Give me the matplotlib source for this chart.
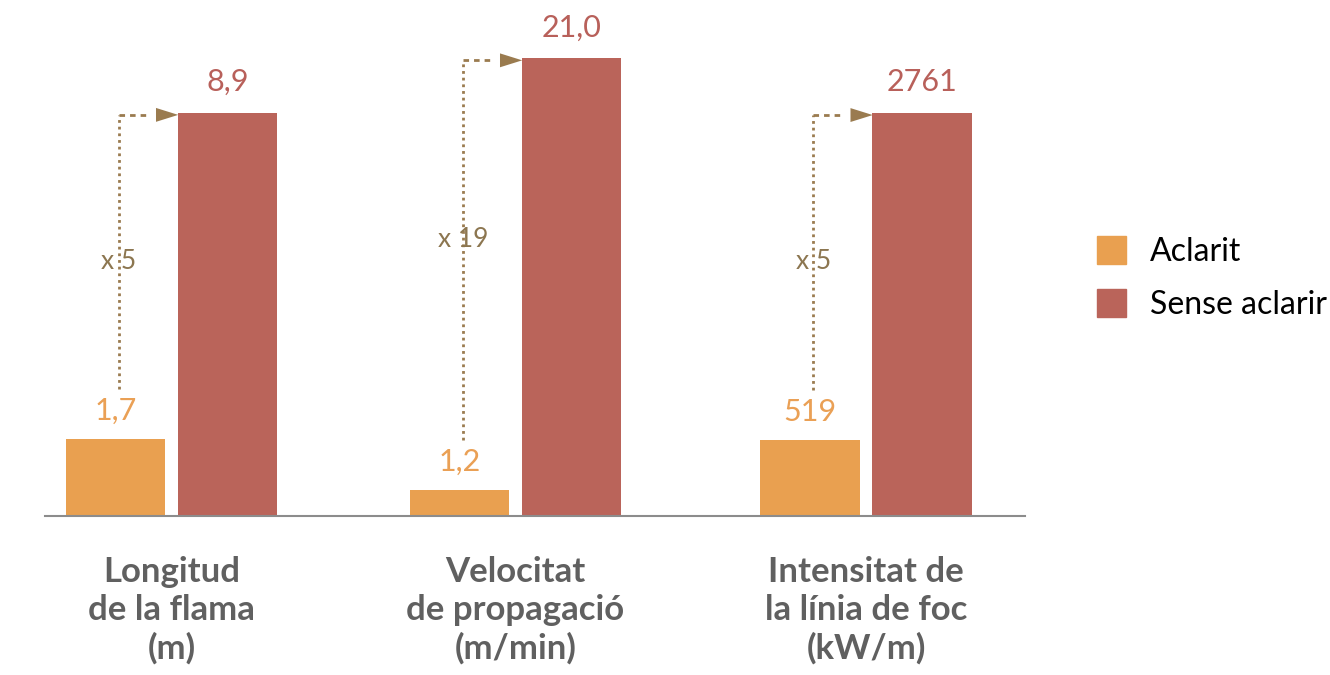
import matplotlib.pyplot as plt
from matplotlib.patches import Patch
from matplotlib.lines import Line2D

plt.rcParams['font.family'] = ['Lato', 'DejaVu Sans']

# dades
categories = ["Longitud\nde la flama\n(m)",
              "Velocitat\nde propagació\n(m/min)",
              "Intensitat de\nla línia de foc\n(kW/m)"]
aclarit = [1.7, 1.2, 519]
sense_aclarir = [8.9, 21.0, 2761]
decimals = [1, 1, 0]
multipliers = ["x 5", "x 19", "x 5"]
series = ["Aclarit", "Sense aclarir"]

# estil / layout
c_orange = "#E9A050"
c_red = "#BA645A"
c_orange_txt = "#EAA055"
c_red_txt = "#B8605A"
c_arrow = "#9A7B4F"
c_mult = "#8C7650"
c_cat = "#606060"

W, H = 1330, 675
ylim_top = [10.73, 22.3, 3330]       # escala propia per grup
orange_centers = [115.5, 459.5, 810]  # px
mult_y = [0.523, 0.568, 0.523]        # fracció eix
unit_px = 112
base_px = 516
top_px = 30

fig = plt.figure(figsize=(W / 100, H / 100), dpi=100)


def fmt(v, d):
    s = f"{v:.{d}f}"
    return s.replace(".", ",")


for i in range(3):
    left = orange_centers[i] - 0.9 * unit_px
    ax = fig.add_axes([left / W, (H - base_px) / H,
                       2.8 * unit_px / W, (base_px - top_px) / H])
    ax.set_xlim(-0.9, 1.9)
    ax.set_ylim(0, ylim_top[i])
    ax.axis("off")

    ax.bar([0], [aclarit[i]], width=0.885, color=c_orange)
    ax.bar([1], [sense_aclarir[i]], width=0.885, color=c_red)

    ax.annotate(fmt(aclarit[i], decimals[i]), (0, aclarit[i]),
                xytext=(0, 10), textcoords="offset points",
                ha="center", va="bottom", fontsize=22, color=c_orange_txt)
    ax.annotate(fmt(sense_aclarir[i], decimals[i]), (1, sense_aclarir[i]),
                xytext=(0, 12), textcoords="offset points",
                ha="center", va="bottom", fontsize=22, color=c_red_txt)

    # fletxa de multiplicador
    px_per_unit = (base_px - top_px) / ylim_top[i]
    y0 = aclarit[i] + 50 / px_per_unit
    y1 = sense_aclarir[i] - 2 / px_per_unit
    x0 = 0.03
    ax.plot([x0, x0], [y0, y1], ls=(0, (1, 1.4)), color=c_arrow, lw=2)
    ax.plot([x0, 0.3], [y1, y1], ls=(0, (2, 1.8)), color=c_arrow, lw=2)
    ax.annotate("", xy=(0.56, y1), xytext=(0.3, y1),
                arrowprops=dict(arrowstyle="-|>,head_length=1.6,head_width=0.5",
                                color=c_arrow, lw=0, shrinkA=0, shrinkB=0))
    ax.text(x0, mult_y[i], multipliers[i], transform=ax.get_xaxis_transform(),
            ha="center", va="center", fontsize=19, color=c_mult)

    ax.text(0.5, -40 / (base_px - top_px), categories[i],
            transform=ax.get_xaxis_transform(), ha="center", va="top",
            fontsize=25, fontweight="bold", color=c_cat, linespacing=1.22)

# línia base
fig.add_artist(Line2D([45 / W, 1025 / W], [(H - base_px) / H] * 2,
                      color="#8C8C8C", lw=1.5))

handles = [Patch(color=c_orange), Patch(color=c_red)]
fig.legend(handles, series, loc="upper left",
           bbox_to_anchor=(1097 / W, (H - 236) / H), frameon=False,
           fontsize=23, handlelength=0.9, handleheight=0.95,
           handletextpad=0.75, labelspacing=0.7, borderpad=0,
           borderaxespad=0)

fig.savefig("out.png", dpi=100)
